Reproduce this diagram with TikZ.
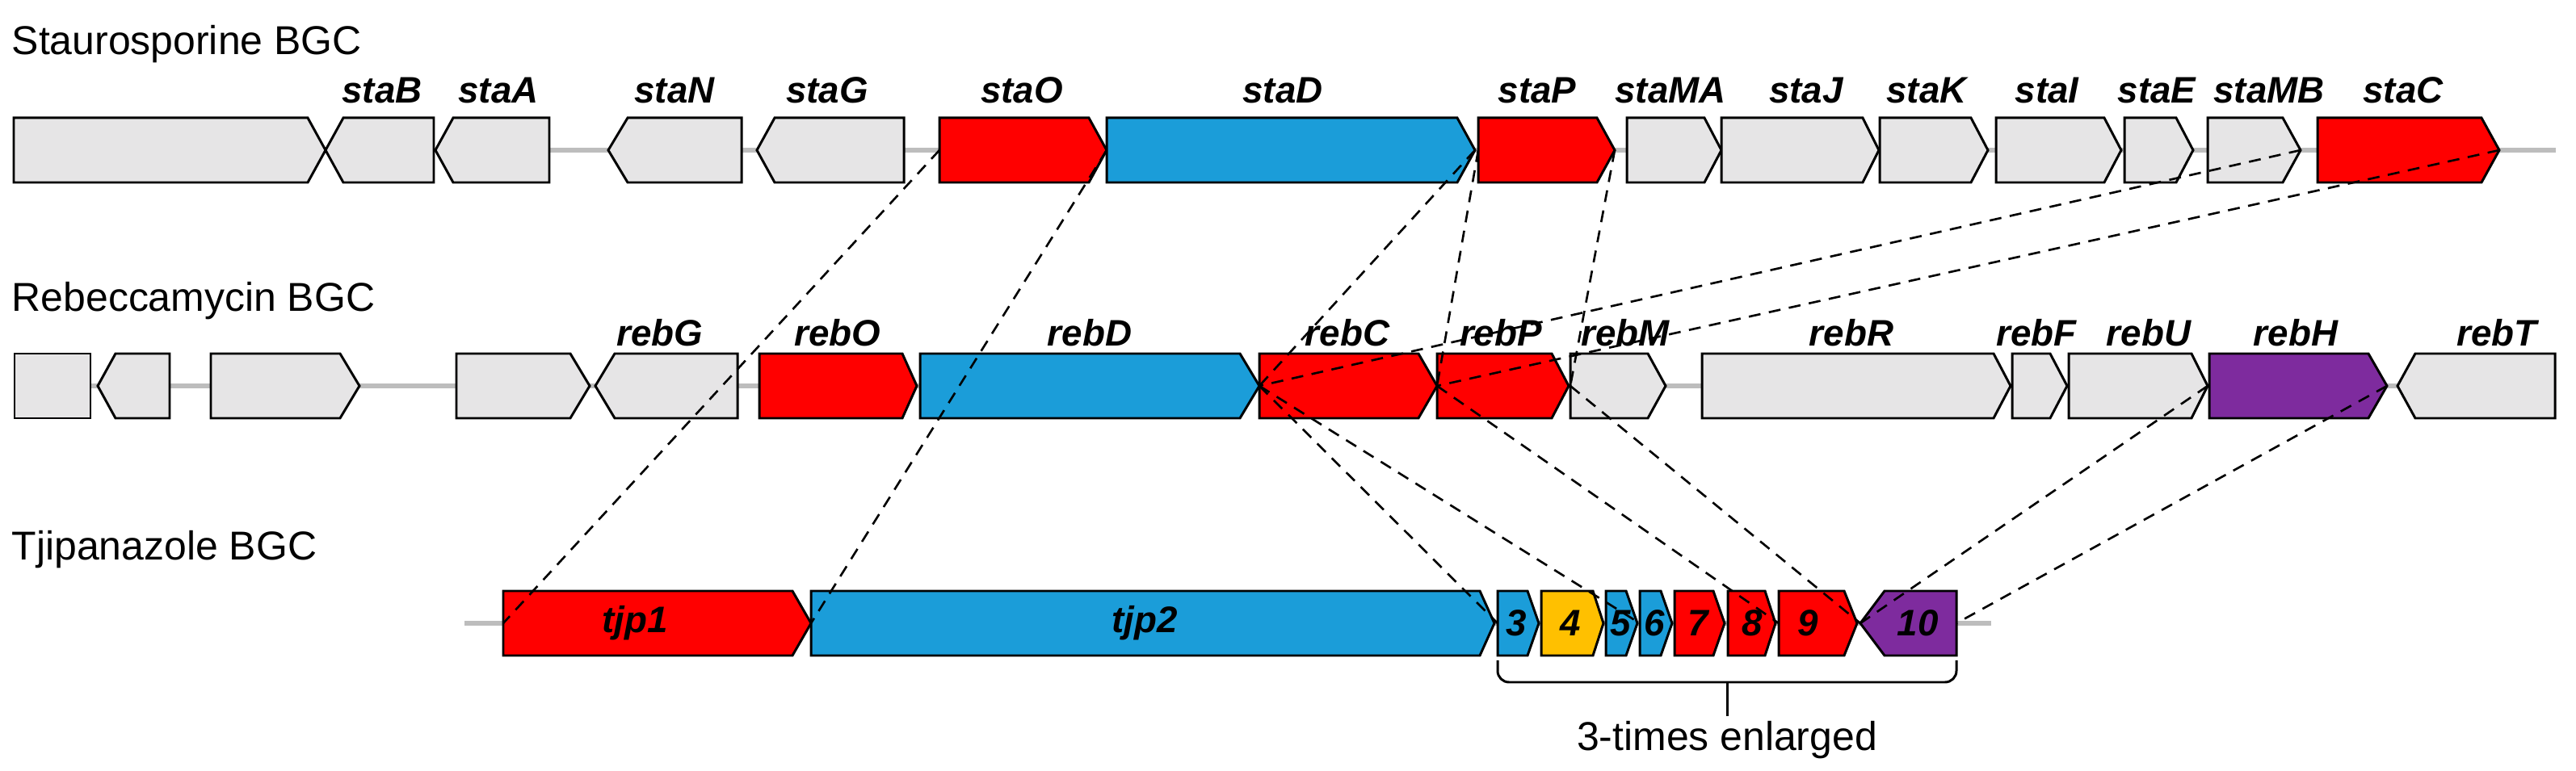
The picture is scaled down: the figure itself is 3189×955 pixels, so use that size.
\documentclass[tikz,border=0pt]{standalone}
\usepackage{fontspec}
\setmainfont{Liberation Sans}
\begin{document}
\definecolor{gfill}{HTML}{E6E5E6}
\definecolor{gred}{HTML}{FF0000}
\definecolor{gblue}{HTML}{1B9DD9}
\definecolor{gpurple}{HTML}{7E2B9E}
\definecolor{gyellow}{HTML}{FFC000}
\definecolor{bb}{HTML}{BDBDBD}
\tikzset{
  gene/.style={draw=black, line width=0.85pt, line join=miter},
  backbone/.style={draw=bb, line width=1.7pt},
  conn/.style={draw=black, line width=0.75pt, dash pattern=on 4.2pt off 3pt},
  title/.style={font=\fontsize{14.2}{16}\selectfont, anchor=west, inner sep=0pt},
  glabel/.style={font=\fontsize{13}{15}\selectfont\bfseries\itshape, inner sep=0pt},
  brace/.style={draw=black, line width=0.85pt, rounded corners=4pt},
}
% name, x1, x2, yc, colour, head
\newcommand\geneR[6]{%
  \draw[gene, fill=#5] (#2,#4-40) -- (#3-#6,#4-40) -- (#3,#4) -- (#3-#6,#4+40) -- (#2,#4+40) -- cycle;
  \coordinate (#1-l) at (#2,#4); \coordinate (#1-r) at (#3,#4);}
\newcommand\geneL[6]{%
  \draw[gene, fill=#5] (#3,#4-40) -- (#2+#6,#4-40) -- (#2,#4) -- (#2+#6,#4+40) -- (#3,#4+40) -- cycle;
  \coordinate (#1-l) at (#2,#4); \coordinate (#1-r) at (#3,#4);}
\begin{tikzpicture}[x=0.01cm, y=-0.01cm]
\useasboundingbox (0,0) rectangle (3189,955);
% titles
\node[title] (t1) at (14,55) {Staurosporine BGC};
\node[title] (t2) at (14,373) {Rebeccamycin BGC};
\node[title] (t3) at (14,681) {Tjipanazole BGC};
% backbones
\coordinate (b1a) at (17,186); \coordinate (b1b) at (3164,186);
\coordinate (b2a) at (18,478); \coordinate (b2b) at (3163,478);
\coordinate (b3a) at (575,772); \coordinate (b3b) at (2465,772);
\draw[backbone] (b1a) -- (b1b);
\draw[backbone] (b2a) -- (b2b);
\draw[backbone] (b3a) -- (b3b);
% row 1
\geneR{s0}{17}{403}{186}{gfill}{22}
\geneL{staB}{403}{537}{186}{gfill}{22}
\geneL{staA}{539}{680}{186}{gfill}{22}
\geneL{staN}{753}{918}{186}{gfill}{24}
\geneL{staG}{937}{1119}{186}{gfill}{22}
\geneR{staO}{1163}{1370}{186}{gred}{22}
\geneR{staD}{1370}{1826}{186}{gblue}{22}
\geneR{staP}{1830}{1999}{186}{gred}{22}
\geneR{staMA}{2014}{2131}{186}{gfill}{21}
\geneR{staJ}{2131}{2326}{186}{gfill}{20}
\geneR{staK}{2327}{2461}{186}{gfill}{21}
\geneR{staI}{2471}{2626}{186}{gfill}{21}
\geneR{staE}{2630}{2715}{186}{gfill}{21}
\geneR{staMB}{2733}{2848}{186}{gfill}{22}
\geneR{staC}{2869}{3094}{186}{gred}{22}
% row 2
\draw[gene, fill=gfill] (18,438) rectangle (112,518);
\geneL{r1}{121}{210}{478}{gfill}{22}
\geneR{r2}{261}{445}{478}{gfill}{24}
\geneR{r3}{565}{730}{478}{gfill}{24}
\geneL{rebG}{737}{913}{478}{gfill}{24}
\geneR{rebO}{940}{1135}{478}{gred}{18}
\geneR{rebD}{1139}{1559}{478}{gblue}{24}
\geneR{rebC}{1559}{1779}{478}{gred}{23}
\geneR{rebP}{1779}{1942}{478}{gred}{21}
\geneR{rebM}{1944}{2062}{478}{gfill}{22}
\geneR{rebR}{2107}{2489}{478}{gfill}{21}
\geneR{rebF}{2491}{2559}{478}{gfill}{21}
\geneR{rebU}{2561}{2733}{478}{gfill}{20}
\geneR{rebH}{2735}{2955}{478}{gpurple}{23}
\geneL{rebT}{2968}{3163}{478}{gfill}{22}
% row 3
\geneR{tjp1}{623}{1004}{772}{gred}{23}
\geneR{tjp2}{1004}{1850}{772}{gblue}{18}
\geneR{g3}{1854}{1905}{772}{gblue}{14}
\geneR{g4}{1908}{1985}{772}{gyellow}{13}
\geneR{g5}{1988}{2027}{772}{gblue}{14}
\geneR{g6}{2030}{2070}{772}{gblue}{14}
\geneR{g7}{2073}{2135}{772}{gred}{14}
\geneR{g8}{2139}{2198}{772}{gred}{13}
\geneR{g9}{2202}{2299}{772}{gred}{16}
\geneL{g10}{2303}{2422}{772}{gpurple}{30}
% connectors
\draw[conn] (staO-l) -- (tjp1-l);
\draw[conn] (staD-l) -- (tjp2-l);
\draw[conn] (staD-r) -- (rebC-l);
\draw[conn] (staP-l) -- (rebP-l);
\draw[conn] (staP-r) -- (rebM-l);
\draw[conn] (staMB-r) -- (rebC-l);
\draw[conn] (staC-r) -- (rebP-l);
\draw[conn] (rebC-l) -- (g3-l);
\draw[conn] (rebC-l) -- (g6-l);
\draw[conn] (rebP-l) -- (g9-l);
\draw[conn] (rebM-l) -- (g10-l);
\draw[conn] (rebU-r) -- (g10-l);
\draw[conn] (rebH-r) -- (g10-r);
% labels row 1
\foreach \n/\x in {staB/473, staA/617, staN/835, staG/1024, staO/1265, staD/1588, staP/1903, staMA/2068, staJ/2236, staK/2385, staI/2534, staE/2670, staMB/2809, staC/2975}
  \node[glabel] (lab-\n) at (\x,112) {\n};
% labels row 2
\foreach \n/\x in {rebG/817, rebO/1037, rebD/1349, rebC/1668, rebP/1858, rebM/2012, rebR/2292, rebF/2521, rebU/2660, rebH/2842, rebT/3091}
  \node[glabel] (lab-\n) at (\x,412) {\n};
% labels row 3
\foreach \n/\x in {tjp1/786, tjp2/1417, 3/1877, 4/1944, 5/2006, 6/2048, 7/2102, 8/2169, 9/2238, 10/2374}
  \node[glabel] (lab-\n) at (\x,772) {\n};
% brace
\coordinate (bra) at (1854,818); \coordinate (brb) at (2422,818);
\coordinate (brm) at (2138,845); \coordinate (brt) at (2138,887);
\draw[brace] (bra) -- (1854,845) -- (2422,845) -- (brb);
\draw[brace] (brm) -- (brt);
\node[font=\fontsize{14.2}{16}\selectfont, inner sep=0pt] (enl) at (2138,917) {3-times enlarged};
\end{tikzpicture}
\end{document}
